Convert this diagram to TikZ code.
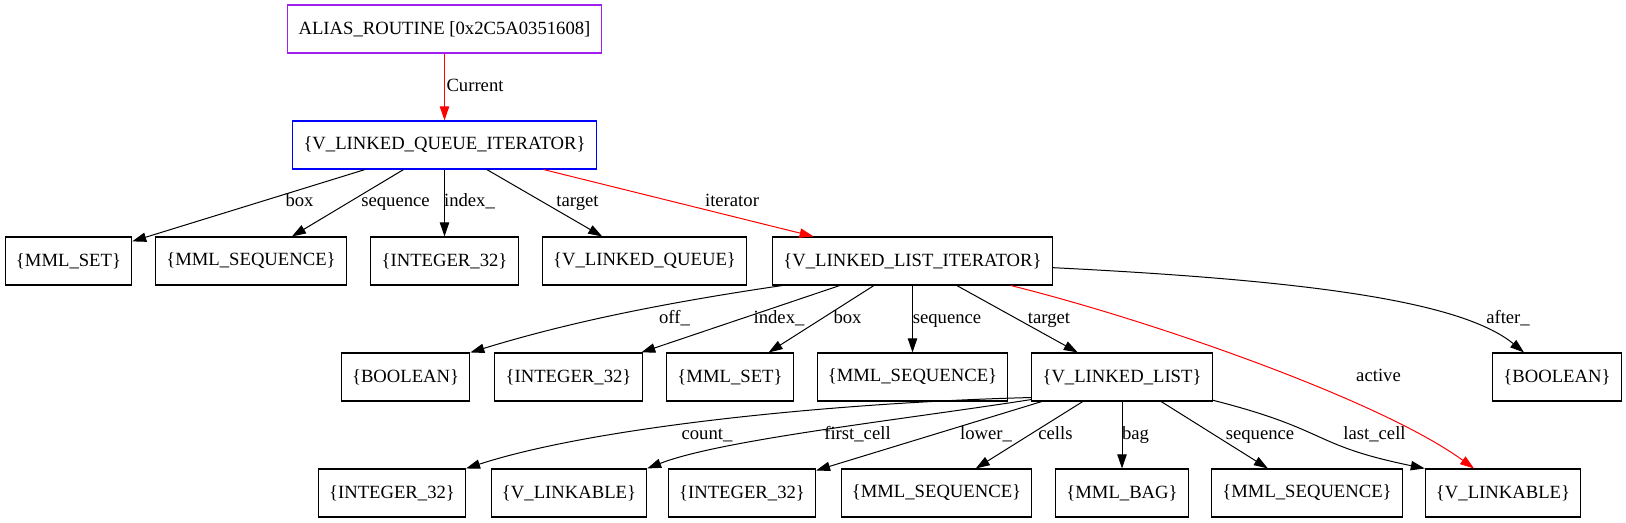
\documentclass[tikz,border=0pt]{standalone}
\usepackage{fontspec}
\setmainfont{Liberation Serif}
\usetikzlibrary{arrows.meta}
\definecolor{gvpurple}{HTML}{A020F0}

\begin{document}
\begin{tikzpicture}[
    x=0.75pt, y=-0.75pt,
    >={Triangle[length=10.5pt, width=7pt]},
    every node/.style={font=\fontsize{14}{16}\selectfont},
    typebox/.style={draw, rectangle, line width=0.8pt,
        minimum height=36pt, inner xsep=8pt, inner ysep=0pt},
    rootbox/.style={typebox, draw=gvpurple},
    iterbox/.style={typebox, draw=blue},
    dep/.style={->, line width=0.75pt},
    curdep/.style={dep, color=red},
    deplbl/.style={inner sep=0pt, text=black, anchor=base}
]
\useasboundingbox (0,0) rectangle (1626,523);

% root and iterator
\node[rootbox] (alias) at (444.5,29) {ALIAS\_ROUTINE [0x2C5A0351608]};
\node[iterbox] (lqiter) at (444.5,145) {\{V\_LINKED\_QUEUE\_ITERATOR\}};

% second level
\node[typebox] (setA) at (68.5,261) {\{MML\_SET\}};
\node[typebox] (seqA) at (251,261) {\{MML\_SEQUENCE\}};
\node[typebox] (intA) at (444.5,261) {\{INTEGER\_32\}};
\node[typebox] (lqueue) at (644.5,261) {\{V\_LINKED\_QUEUE\}};
\node[typebox] (lliter) at (912.5,261) {\{V\_LINKED\_LIST\_ITERATOR\}};

% third level
\node[typebox] (boolA) at (405.6,377) {\{BOOLEAN\}};
\node[typebox] (intB) at (568.5,377) {\{INTEGER\_32\}};
\node[typebox] (setB) at (730,377) {\{MML\_SET\}};
\node[typebox] (seqB) at (912.5,377) {\{MML\_SEQUENCE\}};
\node[typebox] (llist) at (1122,377) {\{V\_LINKED\_LIST\}};
\node[typebox] (boolB) at (1557,377) {\{BOOLEAN\}};

% fourth level
\node[typebox] (intC) at (392,493) {\{INTEGER\_32\}};
\node[typebox] (linkA) at (569,493) {\{V\_LINKABLE\}};
\node[typebox] (intD) at (742,493) {\{INTEGER\_32\}};
\node[typebox] (seqC) at (936.5,493) {\{MML\_SEQUENCE\}};
\node[typebox] (bag) at (1122,493) {\{MML\_BAG\}};
\node[typebox] (seqD) at (1307,493) {\{MML\_SEQUENCE\}};
\node[typebox] (linkB) at (1503,493) {\{V\_LINKABLE\}};

% edges from the root
\draw[curdep] (alias) -- (lqiter) node[deplbl, anchor=base west] at (446,92) {Current};

\draw[dep] (lqiter) -- (setA) node[deplbl] at (299.5,207) {box};
\draw[dep] (lqiter) -- (seqA) node[deplbl] at (395.5,207) {sequence};
\draw[dep] (lqiter) -- (intA) node[deplbl] at (469.5,207) {index\_};
\draw[dep] (lqiter) -- (lqueue) node[deplbl] at (577.5,207) {target};
\draw[curdep] (lqiter) -- (lliter) node[deplbl] at (732,207) {iterator};

% edges from the list iterator
\draw[dep] ([xshift=7.5pt]lliter.south west) .. controls (650,305) and (560,325) .. (boolA.north east)
    node[deplbl] at (674.5,324) {off\_};
\draw[dep] (lliter) -- (intB) node[deplbl] at (779,324) {index\_};
\draw[dep] (lliter) -- (setB) node[deplbl] at (847.5,324) {box};
\draw[dep] (lliter) -- (seqB) node[deplbl] at (947,324) {sequence};
\draw[dep] (lliter) -- (llist) node[deplbl] at (1049,324) {target};
\draw[curdep] ([xshift=-31.5pt]lliter.south east) .. controls (1150,320) and (1380,400) .. ([xshift=-21.75pt]linkB.north)
    node[deplbl] at (1378.5,382) {active};
\draw[dep] ([yshift=-5pt]lliter.east) .. controls (1300,280) and (1460,300) .. ([xshift=-24.75pt]boolB.north)
    node[deplbl] at (1508,324) {after\_};

% edges from the linked list
\draw[dep] ([yshift=3pt]llist.south west) .. controls (850,402) and (600,425) .. (intC.north east)
    node[deplbl] at (707,440) {count\_};
\draw[dep] ([yshift=1.5pt]llist.south west) .. controls (900,420) and (720,440) .. (linkA.north east)
    node[deplbl] at (857.5,440) {first\_cell};
\draw[dep] (llist) -- (intD) node[deplbl] at (986,440) {lower\_};
\draw[dep] (llist) -- (seqC) node[deplbl] at (1055.5,440) {cells};
\draw[dep] (llist) -- (bag) node[deplbl] at (1135.5,440) {bag};
\draw[dep] (llist) -- (seqD) node[deplbl] at (1260,440) {sequence};
\draw[dep] ([yshift=1pt]llist.south east) .. controls (1330,430) and (1310,445) .. (linkB.north west)
    node[deplbl] at (1374.5,440) {last\_cell};
\end{tikzpicture}
\end{document}
